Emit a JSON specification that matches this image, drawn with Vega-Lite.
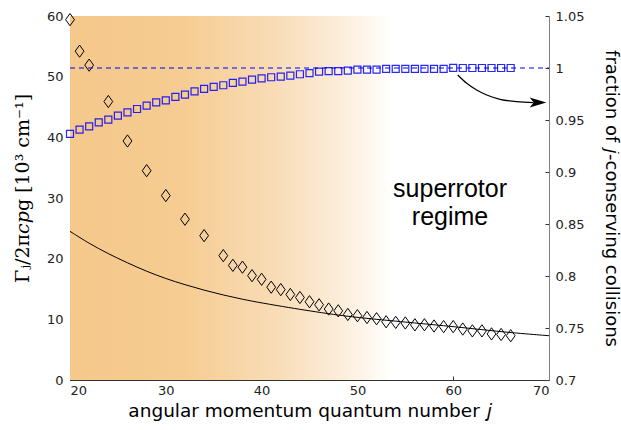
{
  "$schema": "https://vega.github.io/schema/vega-lite/v6.json",
  "autosize": {"type": "none"},
  "padding": {"left": 70, "top": 16, "right": 72, "bottom": 50},
  "width": 479,
  "height": 364,
  "background": "white",
  "config": {
    "view": {"stroke": null},
    "axis": {"grid": false, "labelFont": "DejaVu Sans", "labelFontSize": 13, "labelColor": "#222", "titleFontWeight": "normal", "titleColor": "#000"}
  },
  "datasets": {
    "bg": [{"x": 20, "x2": 53.6, "y": 0, "y2": 60}],
    "gamma": [
      {"j": 20, "g": 59.4}, {"j": 21, "g": 54.2}, {"j": 22, "g": 51.9}, {"j": 24, "g": 45.9},
      {"j": 26, "g": 39.4}, {"j": 28, "g": 34.5}, {"j": 30, "g": 30.4}, {"j": 32, "g": 26.5},
      {"j": 34, "g": 23.8}, {"j": 36, "g": 20.5}, {"j": 37, "g": 18.9}, {"j": 38, "g": 18.6},
      {"j": 39, "g": 17.2}, {"j": 40, "g": 16.6}, {"j": 41, "g": 15.3}, {"j": 42, "g": 14.9},
      {"j": 43, "g": 14.1}, {"j": 44, "g": 13.6}, {"j": 45, "g": 12.9}, {"j": 46, "g": 12.4},
      {"j": 47, "g": 11.7}, {"j": 48, "g": 11.4}, {"j": 49, "g": 10.8}, {"j": 50, "g": 10.6},
      {"j": 51, "g": 10.3}, {"j": 52, "g": 10.1}, {"j": 53, "g": 9.6}, {"j": 54, "g": 9.5},
      {"j": 55, "g": 9.4}, {"j": 56, "g": 9.1}, {"j": 57, "g": 9.1}, {"j": 58, "g": 8.9},
      {"j": 59, "g": 8.8}, {"j": 60, "g": 8.8}, {"j": 61, "g": 8.4}, {"j": 62, "g": 8.1},
      {"j": 63, "g": 8.1}, {"j": 64, "g": 7.6}, {"j": 65, "g": 7.5}, {"j": 66, "g": 7.3}
    ],
    "curve": [
      {"j": 20, "g": 24.5}, {"j": 22, "g": 22.5}, {"j": 24, "g": 20.8}, {"j": 26, "g": 19.3},
      {"j": 28, "g": 17.9}, {"j": 30, "g": 16.7}, {"j": 32, "g": 15.7}, {"j": 34, "g": 14.8},
      {"j": 36, "g": 14.0}, {"j": 38, "g": 13.3}, {"j": 40, "g": 12.7}, {"j": 43, "g": 11.9},
      {"j": 45, "g": 11.4}, {"j": 47.5, "g": 10.8}, {"j": 50, "g": 10.3}, {"j": 54, "g": 9.7},
      {"j": 58, "g": 9.1}, {"j": 60, "g": 8.8}, {"j": 63, "g": 8.3}, {"j": 66, "g": 7.8},
      {"j": 70, "g": 7.3}
    ],
    "frac": [
      {"j": 20, "f": 0.9366}, {"j": 21, "f": 0.9407}, {"j": 22, "f": 0.9439}, {"j": 23, "f": 0.9477},
      {"j": 24, "f": 0.9503}, {"j": 25, "f": 0.9542}, {"j": 26, "f": 0.9574}, {"j": 27, "f": 0.9606},
      {"j": 28, "f": 0.9638}, {"j": 29, "f": 0.967}, {"j": 30, "f": 0.9689}, {"j": 31, "f": 0.9722},
      {"j": 32, "f": 0.9744}, {"j": 33, "f": 0.9776}, {"j": 34, "f": 0.9799}, {"j": 35, "f": 0.9818},
      {"j": 36, "f": 0.9834}, {"j": 37, "f": 0.9857}, {"j": 38, "f": 0.9869}, {"j": 39, "f": 0.9889},
      {"j": 40, "f": 0.9901}, {"j": 41, "f": 0.9911}, {"j": 42, "f": 0.9917}, {"j": 43, "f": 0.9927},
      {"j": 44, "f": 0.994}, {"j": 45, "f": 0.9951}, {"j": 46, "f": 0.9966}, {"j": 47, "f": 0.9969},
      {"j": 48, "f": 0.9969}, {"j": 49, "f": 0.9975}, {"j": 50, "f": 0.9985}, {"j": 51, "f": 0.9985},
      {"j": 52, "f": 0.9985}, {"j": 53, "f": 0.9992}, {"j": 54, "f": 0.9992}, {"j": 55, "f": 0.9992},
      {"j": 56, "f": 0.9992}, {"j": 57, "f": 0.9992}, {"j": 58, "f": 0.9992}, {"j": 59, "f": 0.9992},
      {"j": 60, "f": 1.0001}, {"j": 61, "f": 1.0}, {"j": 62, "f": 1.0}, {"j": 63, "f": 1.0},
      {"j": 64, "f": 1.0}, {"j": 65, "f": 1.0}, {"j": 66, "f": 1.0}
    ],
    "ref": [{"j": 20, "f": 1}, {"j": 70, "f": 1}],
    "arrow": [
      {"j": 60.47, "f": 0.9933}, {"j": 61.41, "f": 0.9853}, {"j": 62.45, "f": 0.9788},
      {"j": 63.5, "f": 0.974}, {"j": 64.89, "f": 0.9699}, {"j": 66.63, "f": 0.9676},
      {"j": 68.4, "f": 0.9668}
    ],
    "head": [{"j": 68.85, "f": 0.9668}],
    "label": [{"j": 59.67, "g": 30.2, "t": ["superrotor", "regime"]}]
  },
  "layer": [
    {
      "layer": [
        {
          "data": {"name": "bg"},
          "mark": {"type": "rect", "color": {"gradient": "linear", "x1": 0, "x2": 1, "y1": 0, "y2": 0, "stops": [
            {"offset": 0, "color": "#F5C88B"},
            {"offset": 0.35, "color": "#F6CC92"},
            {"offset": 0.65, "color": "#F9DDB8"},
            {"offset": 0.85, "color": "#FCEEDC"},
            {"offset": 1, "color": "#FFFFFF"}
          ]}},
          "encoding": {
            "x": {"field": "x", "type": "quantitative", "scale": {"domain": [20, 70], "nice": false, "zero": false},
              "axis": {"values": [20, 30, 40, 50, 60, 70], "domainColor": "#333", "tickColor": "#333", "tickSize": -4, "labelPadding": 8,
                "title": "angular momentum quantum number 𝑗", "titleFont": "DejaVu Sans", "titleFontSize": 18.5, "titlePadding": 4}},
            "x2": {"field": "x2"},
            "y": {"field": "y", "type": "quantitative", "scale": {"domain": [0, 60], "nice": false},
              "axis": {"orient": "left", "values": [0, 10, 20, 30, 40, 50, 60], "domainColor": "#333", "tickColor": "#333", "tickSize": -4, "labelPadding": 11,
                "title": "Γⱼ/2π𝑐𝑝g [10³ cm⁻¹]", "titleFont": "DejaVu Serif", "titleFontSize": 19, "titleAngle": -90, "titleX": -48, "titleY": 172, "titleBaseline": "middle", "titleAlign": "center"}},
            "y2": {"field": "y2"}
          }
        },
        {
          "data": {"name": "curve"},
          "mark": {"type": "line", "color": "#000", "strokeWidth": 1, "interpolate": "basis"},
          "encoding": {
            "x": {"field": "j", "type": "quantitative"},
            "y": {"field": "g", "type": "quantitative"}
          }
        },
        {
          "data": {"name": "gamma"},
          "mark": {"type": "point", "shape": "M0,-1L0.72,0L0,1L-0.72,0Z", "size": 150, "filled": false, "stroke": "#000", "strokeWidth": 1, "opacity": 1},
          "encoding": {
            "x": {"field": "j", "type": "quantitative"},
            "y": {"field": "g", "type": "quantitative"}
          }
        },
        {
          "data": {"name": "label"},
          "mark": {"type": "text", "font": "Liberation Sans", "fontSize": 25, "align": "center", "baseline": "alphabetic", "lineHeight": 28.5, "color": "#000"},
          "encoding": {
            "x": {"field": "j", "type": "quantitative"},
            "y": {"field": "g", "type": "quantitative"},
            "text": {"field": "t"}
          }
        }
      ]
    },
    {
      "layer": [
        {
          "data": {"name": "ref"},
          "mark": {"type": "line", "color": "#0000FF", "strokeWidth": 1.2, "strokeDash": [5, 4]},
          "encoding": {
            "x": {"field": "j", "type": "quantitative"},
            "y": {"field": "f", "type": "quantitative", "scale": {"domain": [0.7, 1.05], "nice": false, "zero": false},
              "axis": {"orient": "right", "values": [0.7, 0.75, 0.8, 0.85, 0.9, 0.95, 1, 1.05], "format": "~g", "domainColor": "#808080", "tickColor": "#333", "tickSize": -4, "labelPadding": 10,
                "title": "fraction of 𝑗-conserving collisions", "titleFont": "DejaVu Sans", "titleFontSize": 18, "titleAngle": 90, "titleX": 61, "titleY": 182, "titleBaseline": "middle", "titleAlign": "center"}}
          }
        },
        {
          "data": {"name": "frac"},
          "mark": {"type": "point", "shape": "square", "size": 49, "filled": false, "stroke": "#0000FF", "strokeOpacity": 0.85, "strokeWidth": 1.2, "opacity": 1},
          "encoding": {
            "x": {"field": "j", "type": "quantitative"},
            "y": {"field": "f", "type": "quantitative"}
          }
        },
        {
          "data": {"name": "arrow"},
          "mark": {"type": "line", "color": "#000", "strokeWidth": 1.2, "interpolate": "monotone"},
          "encoding": {
            "x": {"field": "j", "type": "quantitative"},
            "y": {"field": "f", "type": "quantitative"}
          }
        },
        {
          "data": {"name": "head"},
          "mark": {"type": "point", "shape": "M1,0L-1,-0.6L-0.5,0L-1,0.6Z", "size": 278, "filled": true, "color": "#000", "opacity": 1},
          "encoding": {
            "x": {"field": "j", "type": "quantitative"},
            "y": {"field": "f", "type": "quantitative"}
          }
        }
      ]
    }
  ],
  "resolve": {"scale": {"y": "independent"}}
}
